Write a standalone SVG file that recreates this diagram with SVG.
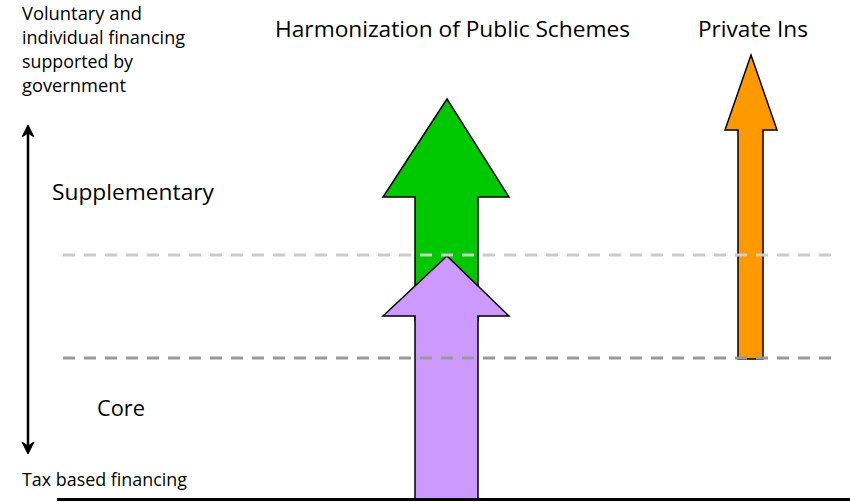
<svg xmlns="http://www.w3.org/2000/svg" width="850" height="502" viewBox="0 0 850 502">
<defs>
<style>
text{font-family:"Open Sans","Liberation Sans",Arial,sans-serif;fill:#000}
.s{font-size:17.5px}
.l{font-size:21px}
.arrow{stroke:#000;stroke-width:1.5;stroke-linejoin:miter}
.dash{stroke-width:3;stroke-dasharray:12 9;fill:none}
.head{fill:#000;stroke:#000;stroke-width:1;stroke-linejoin:miter}
</style>
</defs>
<rect width="850" height="502" fill="#fff"/>
<g id="green-arrow"><polygon class="arrow" fill="#00c800" points="447,99 509,197 478,197 478,320 415,320 415,197 383,197"/></g>
<g id="purple-arrow"><polygon class="arrow" fill="#cc99ff" points="447,256 509,316 478,316 478,500 415,500 415,316 383,316"/></g>
<g id="orange-arrow"><polygon class="arrow" fill="#ff9900" points="751,55 777,130 763,130 763,359 738,359 738,130 725,130"/></g>
<g id="connectors">
<line class="dash" x1="63" y1="255" x2="840" y2="255" stroke="#cccccc"/>
<line class="dash" x1="63" y1="358" x2="840" y2="358" stroke="#999999"/>
<line x1="28" y1="130" x2="28" y2="449" stroke="#000" stroke-width="2.5"/>
<polygon class="head" points="28,125 34,137 28,133 22,137"/>
<polygon class="head" points="28,454 34,442 28,446 22,442"/>
<line x1="57" y1="499.5" x2="850" y2="499.5" stroke="#000" stroke-width="3"/>
</g>
<g id="labels">
<text class="s" x="22" y="20" textLength="120" lengthAdjust="spacingAndGlyphs">Voluntary and</text>
<text class="s" x="22" y="44" textLength="163" lengthAdjust="spacingAndGlyphs">individual financing</text>
<text class="s" x="22" y="68" textLength="111" lengthAdjust="spacingAndGlyphs">supported by</text>
<text class="s" x="22" y="92" textLength="104" lengthAdjust="spacingAndGlyphs">government</text>
<text class="l" x="275" y="36.5" textLength="355" lengthAdjust="spacingAndGlyphs">Harmonization of Public Schemes</text>
<text class="l" x="698" y="36.5" textLength="110" lengthAdjust="spacingAndGlyphs">Private Ins</text>
<text class="l" x="52" y="200" textLength="162" lengthAdjust="spacingAndGlyphs">Supplementary</text>
<text class="l" x="97" y="416" textLength="48" lengthAdjust="spacingAndGlyphs">Core</text>
<text class="s" x="22" y="486" textLength="165" lengthAdjust="spacingAndGlyphs">Tax based financing</text>
</g>
</svg>
